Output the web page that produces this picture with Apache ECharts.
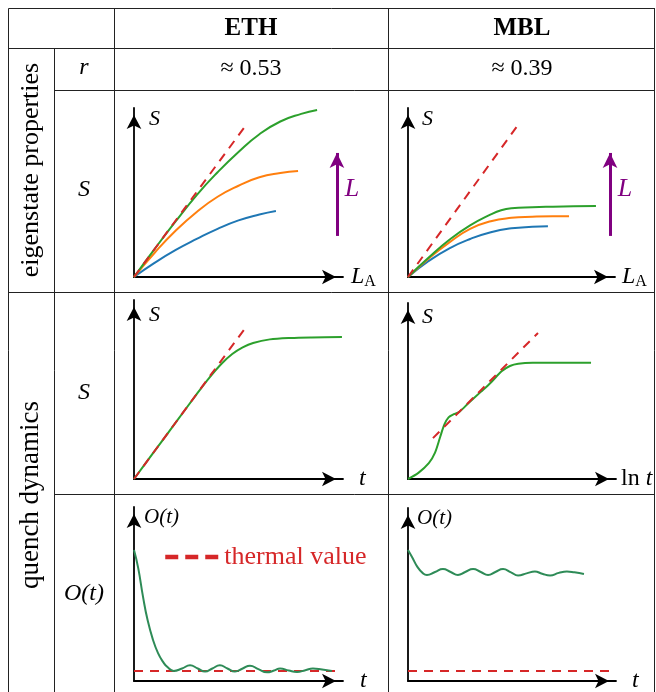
<!DOCTYPE html>
<html>
<head>
<meta charset="utf-8">
<title>ETH vs MBL</title>
<script src="https://cdn.jsdelivr.net/npm/echarts@6/dist/echarts.min.js"></script>
<style>html,body{margin:0;padding:0;background:#fff}</style>
</head>
<body>
<div id="main" style="width:656px;height:692px;"></div>
<script type="text/javascript">
// eigenstate entanglement S(L_A), ETH column
var ethVolumeLaw = [[0, 0], [5.36, 8.99]];
var ethBlue = [[0, 0], [1, 0.85], [2, 1.6], [3, 2.25], [4, 2.85], [5, 3.35], [6, 3.7], [6.79, 3.91]];
var ethOrange = [[0, 0], [1, 1.45], [2, 2.75], [3, 3.85], [4, 4.75], [5, 5.4], [6, 5.9], [7, 6.15], [7.85, 6.27]];
var ethGreen = [[0, 0], [1, 1.68], [2, 3.3], [3, 4.85], [4, 6.2], [5, 7.4], [6, 8.45], [7, 9.2], [8, 9.65], [8.76, 9.88]];
var ethSizeArrow = [[9.71, 2.43], [9.71, 7.34]];

// eigenstate entanglement S(L_A), MBL column
var mblVolumeLaw = [[0, 0], [5.31, 8.99]];
var mblBlue = [[0, 0], [1, 0.95], [2, 1.7], [3, 2.25], [4, 2.65], [5, 2.88], [6, 2.97], [6.76, 3.0]];
var mblOrange = [[0, 0], [1, 1.1], [2, 2.05], [3, 2.85], [4, 3.3], [5, 3.5], [6, 3.57], [7, 3.6], [7.78, 3.6]];
var mblGreen = [[0, 0], [1, 1.15], [2, 2.2], [3, 3.05], [4, 3.7], [4.5, 3.95], [5, 4.07], [6, 4.13], [7, 4.16], [8, 4.18], [9.08, 4.2]];
var mblSizeArrow = [[9.76, 2.43], [9.76, 7.34]];

// quench dynamics S(t)
var ethLinear = [[0, 0], [5.36, 8.49]];
var ethQuenchS = [[0, 0], [1, 1.58], [2, 3.16], [3, 4.74], [3.6, 5.65], [4.2, 6.45], [4.7, 6.98], [5.2, 7.35], [5.7, 7.6], [6.5, 7.8], [7.5, 7.88], [8.5, 7.91], [9.95, 7.93]];
var mblLog = [[1.2, 2.32], [6.25, 8.3]];
var mblQuenchS = [[0, 0], [0.5, 0.35], [1, 0.9], [1.3, 1.5], [1.55, 2.4], [1.75, 3.1], [1.95, 3.5], [2.2, 3.68], [2.45, 3.8], [2.9, 4.3], [3.5, 4.95], [4.0, 5.5], [4.5, 6.12], [4.9, 6.42], [5.3, 6.55], [6, 6.6], [7, 6.6], [8.8, 6.6]];

// quench dynamics O(t)
var ethThermal = [[0, 0.57], [9.95, 0.57]];
var ethO = [[0, 7.53], [0.2, 6.5], [0.43, 4.85], [0.65, 3.5], [0.91, 2.36], [1.15, 1.6], [1.39, 1.1], [1.6, 0.8], [1.9, 0.58], [2.3, 0.72], [2.68, 0.9], [3.05, 0.72], [3.4, 0.55], [3.75, 0.72], [4.11, 0.9], [4.47, 0.72], [4.83, 0.55], [5.2, 0.72], [5.55, 0.88], [5.95, 0.68], [6.36, 0.5], [6.7, 0.6], [6.99, 0.72], [7.4, 0.6], [7.8, 0.52], [8.2, 0.62], [8.56, 0.72], [9.0, 0.66], [9.47, 0.57]];
var mblThermal = [[0, 0.58], [9.95, 0.58]];
var mblO = [[0, 7.57], [0.2, 7.15], [0.45, 6.6], [0.7, 6.25], [0.91, 6.13], [1.3, 6.3], [1.68, 6.47], [2.05, 6.3], [2.4, 6.13], [2.75, 6.3], [3.13, 6.47], [3.5, 6.3], [3.85, 6.13], [4.2, 6.3], [4.57, 6.47], [4.95, 6.28], [5.29, 6.1], [5.7, 6.22], [6.1, 6.33], [6.45, 6.2], [6.83, 6.1], [7.25, 6.25], [7.64, 6.33], [8.0, 6.28], [8.46, 6.18]];

var myChart = echarts.init(document.getElementById('main'));
var serif = 'Liberation Serif';
var red = '#d62728', purple = '#800080';

// one small panel per table cell: origin bottom-left, arrow tips at right / top
var boxes = [
    {left: 134, top: 108, width: 209, height: 169},
    {left: 408, top: 108, width: 207, height: 169},
    {left: 134, top: 300, width: 209, height: 179},
    {left: 408, top: 303, width: 208, height: 176},
    {left: 134, top: 507, width: 209, height: 174},
    {left: 408, top: 508, width: 208, height: 173}
];
var xNames = ['{i|L}{s|A}', '{i|L}{s|A}', '{i|t}', '{r|ln }{i|t}', '{i|t}', '{i|t}'];
var xGaps = [8, 7, 16, 5, 17, 16];
var yNames = ['S', 'S', 'S', 'S', 'O(t)', 'O(t)'];
var yGaps = [0, 0, -4, -3, 0, 0];
var ySizes = [22, 22, 22, 22, 21, 21];
var yPads = [15, 14, 15, 14, 10, 9];

var grids = [], xAxes = [], yAxes = [];
for (var i = 0; i < boxes.length; i++) {
    grids.push({left: boxes[i].left, top: boxes[i].top, width: boxes[i].width, height: boxes[i].height, outerBoundsMode: 'none'});
    var line = {show: true, onZero: false, symbol: ['none', 'arrow'], symbolSize: [11, 14], symbolOffset: [0, -7],
                lineStyle: {color: '#000', width: 1.8}};
    xAxes.push({
        gridIndex: i, type: 'value', min: 0, max: 10,
        axisLine: line, axisTick: {show: false}, axisLabel: {show: false}, splitLine: {show: false},
        name: xNames[i], nameLocation: 'end', nameGap: xGaps[i],
        nameTextStyle: {
            align: 'left', verticalAlign: 'middle', color: '#000',
            rich: {
                i: {fontFamily: serif, fontStyle: 'italic', fontSize: 24, color: '#000'},
                r: {fontFamily: serif, fontSize: 24, color: '#000'},
                s: {fontFamily: serif, fontSize: 16, color: '#000', padding: [10, 0, 0, 0]}
            }
        }
    });
    yAxes.push({
        gridIndex: i, type: 'value', min: 0, max: 10,
        axisLine: line, axisTick: {show: false}, axisLabel: {show: false}, splitLine: {show: false},
        name: yNames[i], nameLocation: 'end', nameGap: yGaps[i],
        nameTextStyle: {fontFamily: serif, fontStyle: 'italic', fontSize: ySizes[i], color: '#000',
                        align: 'left', verticalAlign: 'top', padding: [0, 0, 0, yPads[i]]}
    });
}

function curve(name, data, color, idx, dashed, smooth) {
    return {
        name: name, type: 'line', xAxisIndex: idx, yAxisIndex: idx, data: data,
        symbol: 'none', showSymbol: false, smooth: smooth === undefined ? true : smooth, silent: true,
        lineStyle: {color: color, width: 2, type: dashed ? [9, 7] : 'solid'},
        itemStyle: {color: color}
    };
}

function sizeArrow(coords, idx) {
    return {
        name: 'system size', type: 'line', xAxisIndex: idx, yAxisIndex: idx, data: [], silent: true,
        markLine: {
            silent: true, symbol: ['none', 'arrow'], symbolSize: [11, 15],
            label: {show: false},
            lineStyle: {color: purple, width: 3, type: 'solid'},
            data: [[{coord: coords[0]}, {coord: coords[1]}]]
        }
    };
}

var series = [
    curve('L small', ethBlue, '#1f77b4', 0),
    curve('L medium', ethOrange, '#ff7f0e', 0),
    curve('L large', ethGreen, '#2ca02c', 0),
    curve('volume law', ethVolumeLaw, red, 0, true, false),
    sizeArrow(ethSizeArrow, 0),

    curve('L small', mblBlue, '#1f77b4', 1),
    curve('L medium', mblOrange, '#ff7f0e', 1),
    curve('L large', mblGreen, '#2ca02c', 1),
    curve('volume law', mblVolumeLaw, red, 1, true, false),
    sizeArrow(mblSizeArrow, 1),

    curve('S(t)', ethQuenchS, '#2ca02c', 2, false, 0.3),
    curve('linear growth', ethLinear, red, 2, true, false),

    curve('S(t)', mblQuenchS, '#2ca02c', 3, false, 0.3),
    curve('log growth', mblLog, red, 3, true, false),

    curve('thermal value', ethThermal, red, 4, true, false),
    curve('O(t)', ethO, '#2e8b57', 4),

    curve('thermal value', mblThermal, red, 5, true, false),
    curve('O(t)', mblO, '#2e8b57', 5)
];

// table rules
var rules = [
    [8.5, 8.5, 655, 8.5], [8.5, 48.5, 655, 48.5], [54.5, 90.5, 655, 90.5],
    [8.5, 292.5, 655, 292.5], [54.5, 494.5, 655, 494.5],
    [8.5, 8.5, 8.5, 692], [54.5, 48.5, 54.5, 692], [114.5, 8.5, 114.5, 692],
    [388.5, 8.5, 388.5, 692], [654.5, 8.5, 654.5, 692]
];
var graphic = [];
for (var k = 0; k < rules.length; k++) {
    graphic.push({type: 'line', silent: true, shape: {x1: rules[k][0], y1: rules[k][1], x2: rules[k][2], y2: rules[k][3]},
                  style: {stroke: '#222', lineWidth: 1}});
}
function label(text, x, y, font, color, rot) {
    return {type: 'text', x: x, y: y, rotation: rot || 0, silent: true,
            style: {text: text, x: 0, y: 0, font: font, fill: color || '#000',
                    textAlign: 'center', textVerticalAlign: 'middle', align: 'center', verticalAlign: 'middle'}};
}
graphic.push(label('ETH', 251, 29, 'bold 25px "Liberation Serif"'));
graphic.push(label('MBL', 522, 29, 'bold 25px "Liberation Serif"'));
graphic.push(label('r', 84, 68, 'italic 24px "Liberation Serif"'));
graphic.push(label('\u2248 0.53', 251, 69, '24px "Liberation Serif"'));
graphic.push(label('\u2248 0.39', 522, 69, '24px "Liberation Serif"'));
graphic.push(label('S', 84, 190, 'italic 24px "Liberation Serif"'));
graphic.push(label('S', 84, 393, 'italic 24px "Liberation Serif"'));
graphic.push(label('O(t)', 84, 594, 'italic 24px "Liberation Serif"'));
graphic.push(label('eigenstate properties', 31, 170, '26px "Liberation Serif"', '#000', Math.PI / 2));
graphic.push(label('quench dynamics', 31, 495, '27px "Liberation Serif"', '#000', Math.PI / 2));
graphic.push(label('L', 352, 189, 'italic 26px "Liberation Serif"', purple));
graphic.push(label('L', 625, 189, 'italic 26px "Liberation Serif"', purple));

var option = {
    backgroundColor: '#fff',
    animation: false,
    grid: grids,
    xAxis: xAxes,
    yAxis: yAxes,
    legend: {
        data: ['thermal value'], left: 158, top: 539, selectedMode: false,
        itemWidth: 54, itemHeight: 14, itemGap: 0,
        lineStyle: {width: 4.5, type: [13, 7]},
        itemStyle: {opacity: 0},
        textStyle: {color: red, fontFamily: serif, fontSize: 26}
    },
    series: series,
    graphic: graphic
};
myChart.setOption(option);
</script>
</body>
</html>
